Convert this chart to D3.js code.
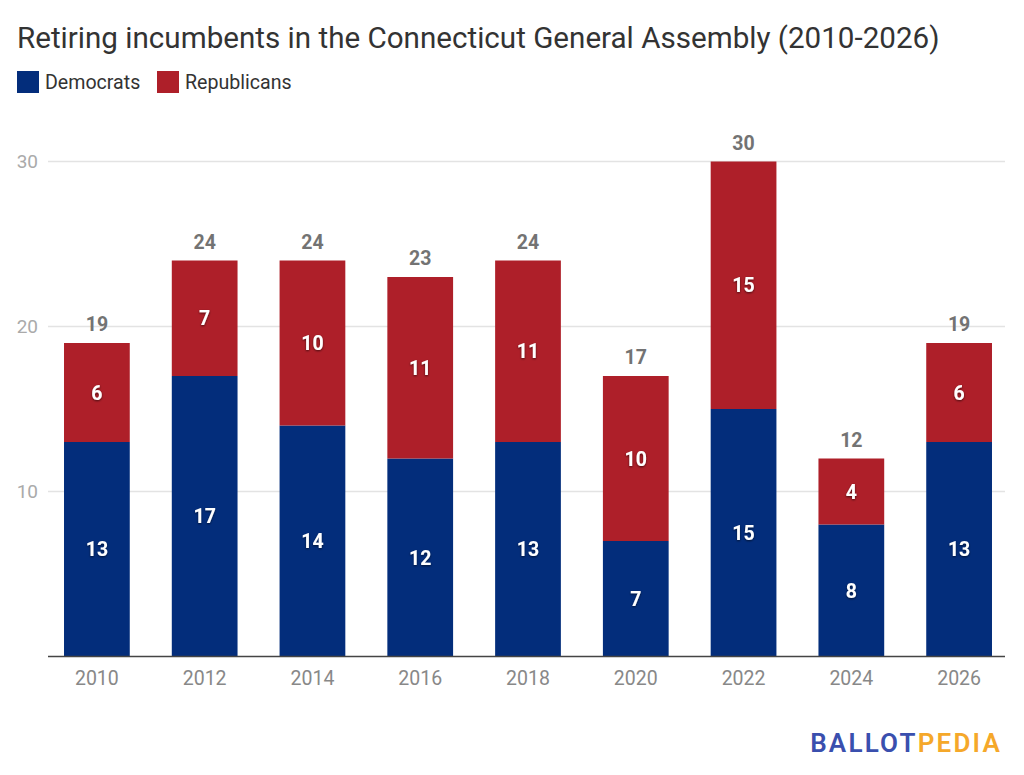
<!DOCTYPE html>
<html>
<head>
<meta charset="utf-8">
<script src="https://cdn.jsdelivr.net/npm/d3@7"></script>
<style>
  body { margin: 0; background: #fff; }
  svg { font-family: Roboto, "Noto Sans", sans-serif; }
</style>
</head>
<body>
<div id="chart"></div>
<script>
var years = ["2010", "2012", "2014", "2016", "2018", "2020", "2022", "2024", "2026"];
var democrats = [13, 17, 14, 12, 13, 7, 15, 8, 13];
var republicans = [6, 7, 10, 11, 11, 10, 15, 4, 6];
var yTicks = [10, 20, 30];
var seriesNames = ["Democrats", "Republicans"];
var colors = ["#032d7b", "#ae1f29"];

var w = 1024, h = 775;

var svg = d3.select("#chart")
  .append("svg")
  .attr("width", w)
  .attr("height", h);

// drop shadow for labels inside bars
var filter = svg.append("defs").append("filter")
  .attr("id", "shadow")
  .attr("x", "-50%").attr("y", "-50%")
  .attr("width", "200%").attr("height", "200%");
filter.append("feDropShadow")
  .attr("dx", 0).attr("dy", 1)
  .attr("stdDeviation", 1)
  .attr("flood-color", "#000")
  .attr("flood-opacity", 0.6);

// title
svg.append("text")
  .attr("x", 17)
  .attr("y", 48)
  .attr("font-size", 29.6)
  .attr("fill", "#333")
  .text("Retiring incumbents in the Connecticut General Assembly (2010-2026)");

// legend
var legend = svg.append("g").attr("transform", "translate(17,71)");
var legX = [0, 140];
seriesNames.forEach(function (name, i) {
  var g = legend.append("g").attr("transform", "translate(" + legX[i] + ",0)");
  g.append("rect")
    .attr("width", 22)
    .attr("height", 22)
    .attr("fill", colors[i]);
  g.append("text")
    .attr("x", 28)
    .attr("y", 18)
    .attr("font-size", 19.6)
    .attr("fill", "#333")
    .text(name);
});

var x = d3.scaleBand()
  .domain(years)
  .range([43, 1013])
  .paddingInner(0.39)
  .paddingOuter(0.195);

var y = d3.scaleLinear()
  .domain([0, 30])
  .range([656.5, 161.5]);

var plotLeft = 48, plotRight = 1005;

// gridlines
svg.append("g")
  .selectAll("line")
  .data(yTicks)
  .enter()
  .append("line")
  .attr("x1", plotLeft)
  .attr("x2", plotRight)
  .attr("y1", function (d) { return y(d); })
  .attr("y2", function (d) { return y(d); })
  .attr("stroke", "#e3e3e3")
  .attr("stroke-width", 1.5);

// y labels
svg.append("g")
  .selectAll("text")
  .data(yTicks)
  .enter()
  .append("text")
  .attr("x", 38)
  .attr("y", function (d) { return y(d) + 6.5; })
  .attr("text-anchor", "end")
  .attr("font-size", 19)
  .attr("fill", "#aaa")
  .text(function (d) { return d; });

// stacked bars
var rows = years.map(function (yr, i) {
  return { year: yr, Democrats: democrats[i], Republicans: republicans[i] };
});
var stack = d3.stack().keys(seriesNames)(rows);

var layers = svg.append("g")
  .selectAll("g.layer")
  .data(stack)
  .enter()
  .append("g")
  .attr("class", "layer")
  .attr("fill", function (d, i) { return colors[i]; });

layers.selectAll("rect")
  .data(function (d) { return d; })
  .enter()
  .append("rect")
  .attr("x", function (d) { return x(d.data.year); })
  .attr("width", x.bandwidth())
  .attr("y", function (d) { return y(d[1]); })
  .attr("height", function (d) { return y(d[0]) - y(d[1]); });

// labels inside segments
layers.selectAll("text")
  .data(function (d) { return d; })
  .enter()
  .append("text")
  .attr("x", function (d) { return x(d.data.year) + x.bandwidth() / 2; })
  .attr("y", function (d) { return (y(d[0]) + y(d[1])) / 2 + 7; })
  .attr("text-anchor", "middle")
  .attr("font-size", 19.5)
  .attr("font-weight", "bold")
  .attr("fill", "#fff")
  .attr("filter", "url(#shadow)")
  .text(function (d) { return d[1] - d[0]; });

// totals
svg.append("g")
  .selectAll("text")
  .data(rows)
  .enter()
  .append("text")
  .attr("x", function (d) { return x(d.year) + x.bandwidth() / 2; })
  .attr("y", function (d) { return y(d.Democrats + d.Republicans) - 12; })
  .attr("text-anchor", "middle")
  .attr("font-size", 19.5)
  .attr("font-weight", "bold")
  .attr("fill", "#737373")
  .text(function (d) { return d.Democrats + d.Republicans; });

// baseline
svg.append("line")
  .attr("x1", plotLeft)
  .attr("x2", plotRight)
  .attr("y1", y(0))
  .attr("y2", y(0))
  .attr("stroke", "#444")
  .attr("stroke-width", 1.5);

// x labels
svg.append("g")
  .selectAll("text")
  .data(years)
  .enter()
  .append("text")
  .attr("x", function (d) { return x(d) + x.bandwidth() / 2; })
  .attr("y", 685)
  .attr("text-anchor", "middle")
  .attr("font-size", 19.5)
  .attr("fill", "#888")
  .text(function (d) { return d; });

// logo
var logo = svg.append("text")
  .attr("x", 1002)
  .attr("y", 752)
  .attr("text-anchor", "end")
  .attr("font-size", 26)
  .attr("font-weight", 600)
  .attr("letter-spacing", 2.2);
logo.append("tspan").attr("fill", "#3a4fae").text("BALLOT");
logo.append("tspan").attr("fill", "#f5a82a").text("PEDIA");
</script>
</body>
</html>
